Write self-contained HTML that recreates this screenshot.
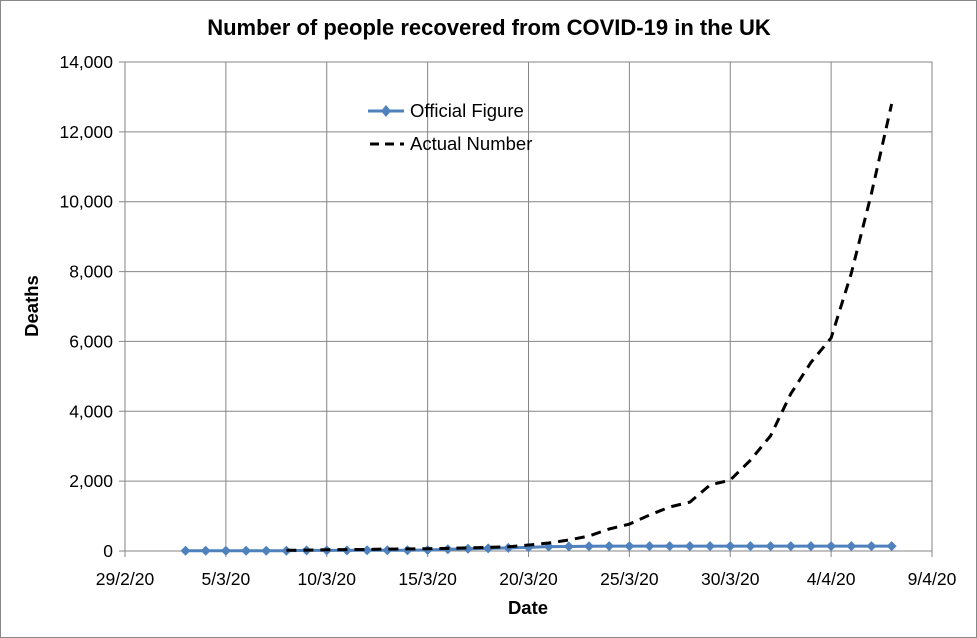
<!DOCTYPE html>
<html><head><meta charset="utf-8"><style>
body{margin:0;background:#fff}
svg{display:block;font-family:"Liberation Sans",sans-serif}
</style></head><body>
<svg id="chart" width="977" height="638">
<rect x="0.5" y="0.5" width="976" height="637" fill="#fff" stroke="#888"/>
<text x="489" y="35" text-anchor="middle" font-size="22" font-weight="bold">Number of people recovered from COVID-19 in the UK</text>
<g id="grid"></g>
<g id="axes"></g>
<g id="series"></g>
<text transform="translate(38,306) rotate(-90)" text-anchor="middle" font-size="18.5" font-weight="bold">Deaths</text>
<text x="528" y="614" text-anchor="middle" font-size="18.5" font-weight="bold">Date</text>
<g>
<g>
<line x1="368" y1="111" x2="404" y2="111" stroke="#4f81bd" stroke-width="3"/>
<path d="M386 105 L391 111 L386 117 L381 111 Z" fill="#4f81bd"/>
<text x="410" y="117" font-size="18.5">Official Figure</text></g>
<g>
<line x1="370" y1="144" x2="404" y2="144" stroke="#000" stroke-width="3" stroke-dasharray="9,6"/>
<text x="410" y="150" font-size="18.5">Actual Number</text></g>
</g>
</svg>
<script>
const officialValues=[8,8,8,8,8,8,18,18,18,20,20,20,30,50,65,75,90,105,125,130,135,140,140,140,140,140,140,140,140,140,140,140,140,140,140,140];
const officialStartDay=3; // days after 29/2/20
const actualValues=[20,25,35,40,45,55,60,65,75,90,105,120,170,230,315,430,630,770,1030,1260,1400,1890,2030,2600,3300,4500,5400,6100,7950,10240,12800];
const actualStartDay=8;
const yTicks=[0,2000,4000,6000,8000,10000,12000,14000];
const xTickLabels=["29/2/20","5/3/20","10/3/20","15/3/20","20/3/20","25/3/20","30/3/20","4/4/20","9/4/20"];
const xTickStep=5;

const NS="http://www.w3.org/2000/svg";
const L=125,R=932,T=62,B=551,xMax=40,yMax=14000;
const xs=d=>L+(R-L)*d/xMax, ys=v=>B-(B-T)*v/yMax;
function mk(tag,attrs,parent){const e=document.createElementNS(NS,tag);for(const k in attrs)e.setAttribute(k,attrs[k]);parent.appendChild(e);return e;}
const grid=document.getElementById('grid'),axes=document.getElementById('axes'),series=document.getElementById('series');
yTicks.forEach(v=>{
  const g=mk('line',{x1:L-6,x2:R,y1:ys(v),y2:ys(v),stroke:'#868686','stroke-width':1},grid);
  
  
  const t=mk('text',{x:L-12,y:ys(v)+6,'text-anchor':'end','font-size':17.5},axes);
  t.textContent=v.toLocaleString('en-US');
  
  
});
xTickLabels.forEach((lab,i)=>{
  const x=xs(i*xTickStep);
  const g=mk('line',{x1:x,x2:x,y1:T,y2:B+6,stroke:'#868686','stroke-width':1},grid);
  
  
  const t=mk('text',{x:x,y:B+34,'text-anchor':'middle','font-size':17.5},axes);
  t.textContent=lab;
  
  
});
const bx=mk('rect',{x:L,y:T,width:R-L,height:B-T,fill:'none',stroke:'#868686'},axes);


const op=officialValues.map((v,i)=>xs(officialStartDay+i)+','+ys(v)).join(' ');
const ol=mk('polyline',{points:op,fill:'none',stroke:'#4f81bd','stroke-width':3},series);


officialValues.forEach((v,i)=>{
  const x=xs(officialStartDay+i),y=ys(v);
  const m=mk('path',{d:`M${x} ${y-5}L${x+5} ${y}L${x} ${y+5}L${x-5} ${y}Z`,fill:'#4f81bd'},series);
  
  
});
const ap=actualValues.map((v,i)=>xs(actualStartDay+i)+','+ys(v)).join(' ');
const al=mk('polyline',{points:ap,fill:'none',stroke:'#000','stroke-width':3,'stroke-dasharray':'10,7','stroke-linejoin':'round'},series);


</script>
</body></html>
